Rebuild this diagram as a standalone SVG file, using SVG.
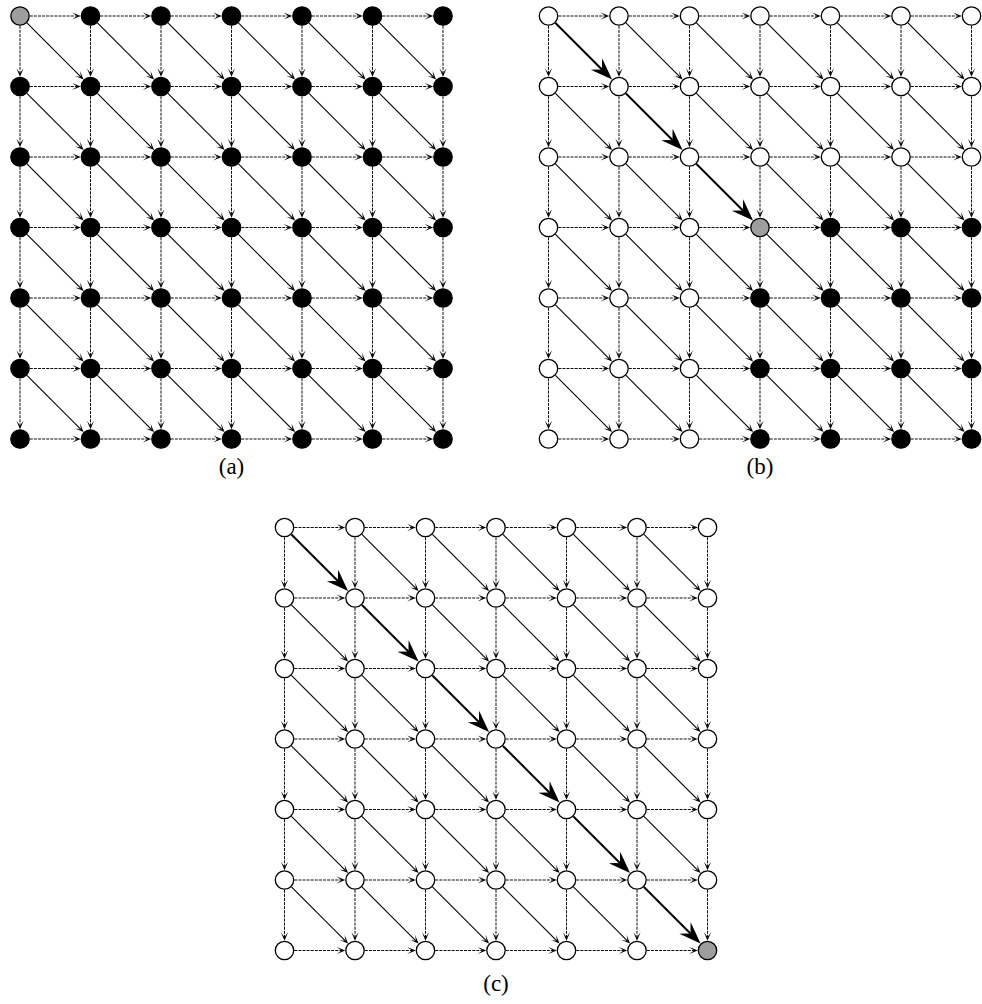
<svg xmlns="http://www.w3.org/2000/svg" xmlns:xlink="http://www.w3.org/1999/xlink" width="982" height="1004" viewBox="0 0 982 1004">
<style>
.n{stroke:#000;stroke-width:1.3}
.w{fill:#fff}.k{fill:#000}.g{fill:#9e9e9e}
.d{stroke:#000;stroke-width:0.95;stroke-dasharray:3 1.1;fill:none}
.s{stroke:#000;stroke-width:1.1;fill:none}
.t{stroke:#000;stroke-width:2;fill:none}
</style>
<defs>
<marker id="sm" markerUnits="userSpaceOnUse" orient="auto" refX="0" refY="0" markerWidth="20" markerHeight="20" overflow="visible">
<path d="M3.5,0 L-5,-3.6 Q-2,-1.2 0,0 Q-2,1.2 -5,3.6 Z" fill="#000"/>
</marker>
<marker id="bg" markerUnits="userSpaceOnUse" orient="auto" refX="0" refY="0" markerWidth="40" markerHeight="40" overflow="visible">
<path d="M14,0 L-8,-8 Q-3,-2.5 0,0 Q-3,2.5 -8,8 Z" fill="#000"/>
</marker>
<line id="h" class="d" x1="9.8" y1="0" x2="57.2" y2="0" marker-end="url(#sm)"/>
<line id="v" class="d" x1="0" y1="9.8" x2="0" y2="57.2" marker-end="url(#sm)"/>
<line id="dg" class="s" x1="6.93" y1="6.93" x2="61.1" y2="61.1" marker-end="url(#sm)"/>
<line id="dt" class="t" x1="6.93" y1="6.93" x2="53.67" y2="53.67" marker-end="url(#bg)"/>
<g id="hrow">
<use href="#h" x="0"/><use href="#h" x="70.5"/><use href="#h" x="141"/><use href="#h" x="211.5"/><use href="#h" x="282"/><use href="#h" x="352.5"/>
</g>
<g id="vrow">
<use href="#v" x="0"/><use href="#v" x="70.5"/><use href="#v" x="141"/><use href="#v" x="211.5"/><use href="#v" x="282"/><use href="#v" x="352.5"/><use href="#v" x="423"/>
</g>
<g id="base">
<use href="#hrow" y="0"/><use href="#hrow" y="70.5"/><use href="#hrow" y="141"/><use href="#hrow" y="211.5"/><use href="#hrow" y="282"/><use href="#hrow" y="352.5"/><use href="#hrow" y="423"/>
<use href="#vrow" y="0"/><use href="#vrow" y="70.5"/><use href="#vrow" y="141"/><use href="#vrow" y="211.5"/><use href="#vrow" y="282"/><use href="#vrow" y="352.5"/>
<use href="#dg" x="70.5" y="0"/><use href="#dg" x="141" y="0"/><use href="#dg" x="211.5" y="0"/><use href="#dg" x="282" y="0"/><use href="#dg" x="352.5" y="0"/>
<use href="#dg" x="0" y="70.5"/><use href="#dg" x="141" y="70.5"/><use href="#dg" x="211.5" y="70.5"/><use href="#dg" x="282" y="70.5"/><use href="#dg" x="352.5" y="70.5"/>
<use href="#dg" x="0" y="141"/><use href="#dg" x="70.5" y="141"/><use href="#dg" x="211.5" y="141"/><use href="#dg" x="282" y="141"/><use href="#dg" x="352.5" y="141"/>
<use href="#dg" x="0" y="211.5"/><use href="#dg" x="70.5" y="211.5"/><use href="#dg" x="141" y="211.5"/><use href="#dg" x="282" y="211.5"/><use href="#dg" x="352.5" y="211.5"/>
<use href="#dg" x="0" y="282"/><use href="#dg" x="70.5" y="282"/><use href="#dg" x="141" y="282"/><use href="#dg" x="211.5" y="282"/><use href="#dg" x="352.5" y="282"/>
<use href="#dg" x="0" y="352.5"/><use href="#dg" x="70.5" y="352.5"/><use href="#dg" x="141" y="352.5"/><use href="#dg" x="211.5" y="352.5"/><use href="#dg" x="282" y="352.5"/>
</g>
<circle id="nw" class="n w" r="9.2"/>
<circle id="nk" class="n k" r="9.2"/>
<circle id="ng" class="n g" r="9.2"/>
</defs>
<rect width="982" height="1004" fill="#fff"/>

<g id="connectors">
<g id="edges-a" transform="translate(20,16)">
<use href="#base"/>
<use href="#dg" x="0" y="0"/><use href="#dg" x="70.5" y="70.5"/><use href="#dg" x="141" y="141"/><use href="#dg" x="211.5" y="211.5"/><use href="#dg" x="282" y="282"/><use href="#dg" x="352.5" y="352.5"/>
</g>
<g id="edges-b" transform="translate(548.5,16)">
<use href="#base"/>
<use href="#dt" x="0" y="0"/><use href="#dt" x="70.5" y="70.5"/><use href="#dt" x="141" y="141"/><use href="#dg" x="211.5" y="211.5"/><use href="#dg" x="282" y="282"/><use href="#dg" x="352.5" y="352.5"/>
</g>
<g id="edges-c" transform="translate(284.5,527.5)">
<use href="#base"/>
<use href="#dt" x="0" y="0"/><use href="#dt" x="70.5" y="70.5"/><use href="#dt" x="141" y="141"/><use href="#dt" x="211.5" y="211.5"/><use href="#dt" x="282" y="282"/><use href="#dt" x="352.5" y="352.5"/>
</g>
</g>

<g id="nodes-a" transform="translate(20,16)">
<g id="a-0-0"><use href="#ng" x="0" y="0"/></g><g id="a-0-1"><use href="#nk" x="70.5" y="0"/></g><g id="a-0-2"><use href="#nk" x="141" y="0"/></g><g id="a-0-3"><use href="#nk" x="211.5" y="0"/></g><g id="a-0-4"><use href="#nk" x="282" y="0"/></g><g id="a-0-5"><use href="#nk" x="352.5" y="0"/></g><g id="a-0-6"><use href="#nk" x="423" y="0"/></g>
<g id="a-1-0"><use href="#nk" x="0" y="70.5"/></g><g id="a-1-1"><use href="#nk" x="70.5" y="70.5"/></g><g id="a-1-2"><use href="#nk" x="141" y="70.5"/></g><g id="a-1-3"><use href="#nk" x="211.5" y="70.5"/></g><g id="a-1-4"><use href="#nk" x="282" y="70.5"/></g><g id="a-1-5"><use href="#nk" x="352.5" y="70.5"/></g><g id="a-1-6"><use href="#nk" x="423" y="70.5"/></g>
<g id="a-2-0"><use href="#nk" x="0" y="141"/></g><g id="a-2-1"><use href="#nk" x="70.5" y="141"/></g><g id="a-2-2"><use href="#nk" x="141" y="141"/></g><g id="a-2-3"><use href="#nk" x="211.5" y="141"/></g><g id="a-2-4"><use href="#nk" x="282" y="141"/></g><g id="a-2-5"><use href="#nk" x="352.5" y="141"/></g><g id="a-2-6"><use href="#nk" x="423" y="141"/></g>
<g id="a-3-0"><use href="#nk" x="0" y="211.5"/></g><g id="a-3-1"><use href="#nk" x="70.5" y="211.5"/></g><g id="a-3-2"><use href="#nk" x="141" y="211.5"/></g><g id="a-3-3"><use href="#nk" x="211.5" y="211.5"/></g><g id="a-3-4"><use href="#nk" x="282" y="211.5"/></g><g id="a-3-5"><use href="#nk" x="352.5" y="211.5"/></g><g id="a-3-6"><use href="#nk" x="423" y="211.5"/></g>
<g id="a-4-0"><use href="#nk" x="0" y="282"/></g><g id="a-4-1"><use href="#nk" x="70.5" y="282"/></g><g id="a-4-2"><use href="#nk" x="141" y="282"/></g><g id="a-4-3"><use href="#nk" x="211.5" y="282"/></g><g id="a-4-4"><use href="#nk" x="282" y="282"/></g><g id="a-4-5"><use href="#nk" x="352.5" y="282"/></g><g id="a-4-6"><use href="#nk" x="423" y="282"/></g>
<g id="a-5-0"><use href="#nk" x="0" y="352.5"/></g><g id="a-5-1"><use href="#nk" x="70.5" y="352.5"/></g><g id="a-5-2"><use href="#nk" x="141" y="352.5"/></g><g id="a-5-3"><use href="#nk" x="211.5" y="352.5"/></g><g id="a-5-4"><use href="#nk" x="282" y="352.5"/></g><g id="a-5-5"><use href="#nk" x="352.5" y="352.5"/></g><g id="a-5-6"><use href="#nk" x="423" y="352.5"/></g>
<g id="a-6-0"><use href="#nk" x="0" y="423"/></g><g id="a-6-1"><use href="#nk" x="70.5" y="423"/></g><g id="a-6-2"><use href="#nk" x="141" y="423"/></g><g id="a-6-3"><use href="#nk" x="211.5" y="423"/></g><g id="a-6-4"><use href="#nk" x="282" y="423"/></g><g id="a-6-5"><use href="#nk" x="352.5" y="423"/></g><g id="a-6-6"><use href="#nk" x="423" y="423"/></g>
</g>

<g id="nodes-b" transform="translate(548.5,16)">
<g id="b-0-0"><use href="#nw" x="0" y="0"/></g><g id="b-0-1"><use href="#nw" x="70.5" y="0"/></g><g id="b-0-2"><use href="#nw" x="141" y="0"/></g><g id="b-0-3"><use href="#nw" x="211.5" y="0"/></g><g id="b-0-4"><use href="#nw" x="282" y="0"/></g><g id="b-0-5"><use href="#nw" x="352.5" y="0"/></g><g id="b-0-6"><use href="#nw" x="423" y="0"/></g>
<g id="b-1-0"><use href="#nw" x="0" y="70.5"/></g><g id="b-1-1"><use href="#nw" x="70.5" y="70.5"/></g><g id="b-1-2"><use href="#nw" x="141" y="70.5"/></g><g id="b-1-3"><use href="#nw" x="211.5" y="70.5"/></g><g id="b-1-4"><use href="#nw" x="282" y="70.5"/></g><g id="b-1-5"><use href="#nw" x="352.5" y="70.5"/></g><g id="b-1-6"><use href="#nw" x="423" y="70.5"/></g>
<g id="b-2-0"><use href="#nw" x="0" y="141"/></g><g id="b-2-1"><use href="#nw" x="70.5" y="141"/></g><g id="b-2-2"><use href="#nw" x="141" y="141"/></g><g id="b-2-3"><use href="#nw" x="211.5" y="141"/></g><g id="b-2-4"><use href="#nw" x="282" y="141"/></g><g id="b-2-5"><use href="#nw" x="352.5" y="141"/></g><g id="b-2-6"><use href="#nw" x="423" y="141"/></g>
<g id="b-3-0"><use href="#nw" x="0" y="211.5"/></g><g id="b-3-1"><use href="#nw" x="70.5" y="211.5"/></g><g id="b-3-2"><use href="#nw" x="141" y="211.5"/></g><g id="b-3-3"><use href="#ng" x="211.5" y="211.5"/></g><g id="b-3-4"><use href="#nk" x="282" y="211.5"/></g><g id="b-3-5"><use href="#nk" x="352.5" y="211.5"/></g><g id="b-3-6"><use href="#nk" x="423" y="211.5"/></g>
<g id="b-4-0"><use href="#nw" x="0" y="282"/></g><g id="b-4-1"><use href="#nw" x="70.5" y="282"/></g><g id="b-4-2"><use href="#nw" x="141" y="282"/></g><g id="b-4-3"><use href="#nk" x="211.5" y="282"/></g><g id="b-4-4"><use href="#nk" x="282" y="282"/></g><g id="b-4-5"><use href="#nk" x="352.5" y="282"/></g><g id="b-4-6"><use href="#nk" x="423" y="282"/></g>
<g id="b-5-0"><use href="#nw" x="0" y="352.5"/></g><g id="b-5-1"><use href="#nw" x="70.5" y="352.5"/></g><g id="b-5-2"><use href="#nw" x="141" y="352.5"/></g><g id="b-5-3"><use href="#nk" x="211.5" y="352.5"/></g><g id="b-5-4"><use href="#nk" x="282" y="352.5"/></g><g id="b-5-5"><use href="#nk" x="352.5" y="352.5"/></g><g id="b-5-6"><use href="#nk" x="423" y="352.5"/></g>
<g id="b-6-0"><use href="#nw" x="0" y="423"/></g><g id="b-6-1"><use href="#nw" x="70.5" y="423"/></g><g id="b-6-2"><use href="#nw" x="141" y="423"/></g><g id="b-6-3"><use href="#nk" x="211.5" y="423"/></g><g id="b-6-4"><use href="#nk" x="282" y="423"/></g><g id="b-6-5"><use href="#nk" x="352.5" y="423"/></g><g id="b-6-6"><use href="#nk" x="423" y="423"/></g>
</g>

<g id="nodes-c" transform="translate(284.5,527.5)">
<g id="c-0-0"><use href="#nw" x="0" y="0"/></g><g id="c-0-1"><use href="#nw" x="70.5" y="0"/></g><g id="c-0-2"><use href="#nw" x="141" y="0"/></g><g id="c-0-3"><use href="#nw" x="211.5" y="0"/></g><g id="c-0-4"><use href="#nw" x="282" y="0"/></g><g id="c-0-5"><use href="#nw" x="352.5" y="0"/></g><g id="c-0-6"><use href="#nw" x="423" y="0"/></g>
<g id="c-1-0"><use href="#nw" x="0" y="70.5"/></g><g id="c-1-1"><use href="#nw" x="70.5" y="70.5"/></g><g id="c-1-2"><use href="#nw" x="141" y="70.5"/></g><g id="c-1-3"><use href="#nw" x="211.5" y="70.5"/></g><g id="c-1-4"><use href="#nw" x="282" y="70.5"/></g><g id="c-1-5"><use href="#nw" x="352.5" y="70.5"/></g><g id="c-1-6"><use href="#nw" x="423" y="70.5"/></g>
<g id="c-2-0"><use href="#nw" x="0" y="141"/></g><g id="c-2-1"><use href="#nw" x="70.5" y="141"/></g><g id="c-2-2"><use href="#nw" x="141" y="141"/></g><g id="c-2-3"><use href="#nw" x="211.5" y="141"/></g><g id="c-2-4"><use href="#nw" x="282" y="141"/></g><g id="c-2-5"><use href="#nw" x="352.5" y="141"/></g><g id="c-2-6"><use href="#nw" x="423" y="141"/></g>
<g id="c-3-0"><use href="#nw" x="0" y="211.5"/></g><g id="c-3-1"><use href="#nw" x="70.5" y="211.5"/></g><g id="c-3-2"><use href="#nw" x="141" y="211.5"/></g><g id="c-3-3"><use href="#nw" x="211.5" y="211.5"/></g><g id="c-3-4"><use href="#nw" x="282" y="211.5"/></g><g id="c-3-5"><use href="#nw" x="352.5" y="211.5"/></g><g id="c-3-6"><use href="#nw" x="423" y="211.5"/></g>
<g id="c-4-0"><use href="#nw" x="0" y="282"/></g><g id="c-4-1"><use href="#nw" x="70.5" y="282"/></g><g id="c-4-2"><use href="#nw" x="141" y="282"/></g><g id="c-4-3"><use href="#nw" x="211.5" y="282"/></g><g id="c-4-4"><use href="#nw" x="282" y="282"/></g><g id="c-4-5"><use href="#nw" x="352.5" y="282"/></g><g id="c-4-6"><use href="#nw" x="423" y="282"/></g>
<g id="c-5-0"><use href="#nw" x="0" y="352.5"/></g><g id="c-5-1"><use href="#nw" x="70.5" y="352.5"/></g><g id="c-5-2"><use href="#nw" x="141" y="352.5"/></g><g id="c-5-3"><use href="#nw" x="211.5" y="352.5"/></g><g id="c-5-4"><use href="#nw" x="282" y="352.5"/></g><g id="c-5-5"><use href="#nw" x="352.5" y="352.5"/></g><g id="c-5-6"><use href="#nw" x="423" y="352.5"/></g>
<g id="c-6-0"><use href="#nw" x="0" y="423"/></g><g id="c-6-1"><use href="#nw" x="70.5" y="423"/></g><g id="c-6-2"><use href="#nw" x="141" y="423"/></g><g id="c-6-3"><use href="#nw" x="211.5" y="423"/></g><g id="c-6-4"><use href="#nw" x="282" y="423"/></g><g id="c-6-5"><use href="#nw" x="352.5" y="423"/></g><g id="c-6-6"><use href="#ng" x="423" y="423"/></g>
</g>

<g id="labels" font-family="Liberation Serif, DejaVu Serif, serif" font-size="23" fill="#000" text-anchor="middle">
<text x="231.5" y="474">(a)</text>
<text x="760" y="474">(b)</text>
<text x="496" y="991">(c)</text>
</g>
</svg>
